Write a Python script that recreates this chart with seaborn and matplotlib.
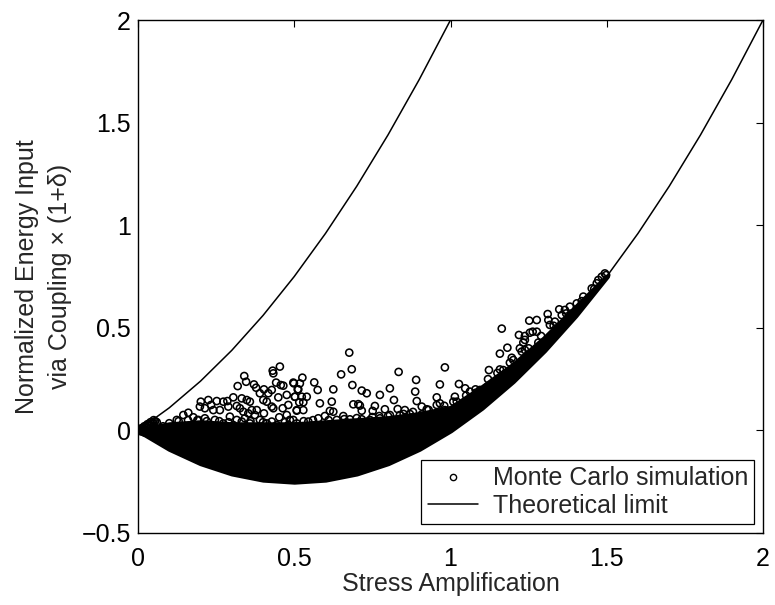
import matplotlib
matplotlib.use("Agg")
import matplotlib.pyplot as plt
from matplotlib.lines import Line2D
import seaborn as sns

# ---- data ----
curve_x = [0.0, 0.1, 0.2, 0.3, 0.4, 0.5, 0.6, 0.7, 0.8, 0.9, 1.0,
           1.1, 1.2, 1.3, 1.4, 1.5, 1.6, 1.7, 1.8, 1.9, 2.0]
lower_limit = [0.0, -0.09, -0.16, -0.21, -0.24, -0.25, -0.24, -0.21, -0.16, -0.09, 0.0,
               0.11, 0.24, 0.39, 0.56, 0.75, 0.96, 1.19, 1.44, 1.71, 2.0]
upper_x = [0.0, 0.1, 0.2, 0.3, 0.4, 0.5, 0.6, 0.7, 0.8, 0.9, 1.0]
upper_limit = [0.0, 0.11, 0.24, 0.39, 0.56, 0.75, 0.96, 1.19, 1.44, 1.71, 2.0]

# top edge of the solid (dense) Monte Carlo cloud, at curve_x[0:16]
dense_top = [0.0, 0.03, 0.04, 0.03, 0.03, 0.03, 0.04, 0.05, 0.06, 0.08, 0.11,
             0.21, 0.32, 0.45, 0.60, 0.75]

# individually visible Monte Carlo samples
mc_x = [0.000, 0.010, 0.020, 0.030, 0.040, 0.050, 0.010, 0.020, 0.030, 0.040, 0.050, 0.060, 0.030, 0.060,
        0.005, 0.015, 0.025, 0.035, 0.045, 0.055, 0.020, 0.040, 0.050,
        0.454, 0.431, 0.433, 0.340, 0.346, 0.319, 0.371, 0.378, 0.403, 0.428, 0.442, 0.457, 0.465, 0.499,
        0.511, 0.390, 0.417, 0.449, 0.476, 0.502, 0.201, 0.225, 0.252, 0.273, 0.286, 0.305, 0.332, 0.348,
        0.358, 0.364, 0.380, 0.401, 0.412, 0.428, 0.433, 0.463, 0.481, 0.508, 0.198, 0.214, 0.234, 0.241,
        0.262, 0.289, 0.316, 0.326, 0.337, 0.342, 0.353, 0.374, 0.403, 0.476, 0.452, 0.428, 0.412, 0.161,
        0.145, 0.124, 0.177, 0.193, 0.214, 0.246, 0.294, 0.316, 0.332, 0.358, 0.390, 0.497, 0.508, 0.444,
        0.481, 0.305, 0.273,
        0.676, 0.684, 0.650, 0.834, 0.982, 0.890, 0.966, 0.564, 0.526, 0.518, 0.497, 0.686, 0.625, 0.575,
        0.716, 0.732, 0.774, 0.806, 0.887, 0.956, 0.513, 0.502, 0.524, 0.540, 0.516, 0.529, 0.620, 0.582,
        0.819, 0.892, 0.689, 0.705, 0.710, 0.758, 0.716, 0.751, 0.790, 0.831, 0.854, 0.870, 0.908, 0.924,
        0.956, 0.966, 0.982, 0.614, 0.625, 0.598, 0.508, 0.529, 0.657, 0.678, 0.716, 0.772, 0.806, 0.838,
        0.892, 0.908, 0.940, 0.961, 0.577, 0.636, 0.545, 0.486, 0.508, 0.742, 0.774, 0.817, 0.865, 0.988,
        1.494, 1.484, 1.473, 1.498, 1.382, 1.348, 1.366, 1.311, 1.313, 1.252, 1.276, 1.164, 1.219, 1.238,
        1.254, 1.263, 1.276, 1.238, 1.233, 1.182, 1.158, 1.196, 1.222, 1.228, 1.238, 1.201, 1.123, 1.158,
        1.169, 1.027, 1.047, 1.116, 1.062, 1.082, 1.014, 1.009, 1.094, 1.137, 1.148, 1.281, 1.318, 1.334,
        1.356, 1.404, 1.425, 1.452, 1.468,
        0.08, 0.10, 0.13, 0.16, 0.19, 0.22, 0.26, 0.29, 0.36, 0.40, 0.47, 0.53, 0.56, 0.61, 0.66, 0.70,
        0.75, 0.80, 0.85, 0.88, 0.93, 0.98, 1.02, 1.05, 1.08, 1.12, 1.15, 1.19, 1.25, 1.29, 1.33, 1.37,
        1.42, 1.46]
mc_y = [0.000, 0.010, 0.020, 0.030, 0.040, 0.050, -0.005, 0.005, 0.015, 0.025, 0.035, 0.040, -0.010, 0.000,
        0.000, 0.010, 0.020, 0.030, 0.035, 0.045, -0.010, 0.010, 0.020,
        0.311, 0.291, 0.278, 0.265, 0.237, 0.216, 0.224, 0.208, 0.200, 0.197, 0.233, 0.221, 0.218, 0.229,
        0.200, 0.181, 0.181, 0.161, 0.173, 0.164, 0.140, 0.148, 0.143, 0.140, 0.143, 0.161, 0.156, 0.148,
        0.140, 0.099, 0.099, 0.148, 0.140, 0.116, 0.108, 0.108, 0.124, 0.099, 0.116, 0.108, 0.124, 0.099,
        0.099, 0.116, 0.119, 0.108, 0.091, 0.059, 0.083, 0.075, 0.083, 0.075, 0.064, 0.043, 0.034, 0.086,
        0.075, 0.051, 0.064, 0.051, 0.059, 0.051, 0.067, 0.051, 0.043, 0.034, 0.051, 0.051, 0.018, 0.026,
        0.026, 0.026, 0.034,
        0.379, 0.298, 0.273, 0.285, 0.307, 0.246, 0.224, 0.234, 0.257, 0.229, 0.233, 0.221, 0.200, 0.197,
        0.194, 0.181, 0.173, 0.205, 0.189, 0.161, 0.200, 0.164, 0.164, 0.164, 0.137, 0.137, 0.140, 0.132,
        0.148, 0.143, 0.127, 0.128, 0.121, 0.119, 0.096, 0.095, 0.103, 0.104, 0.099, 0.080, 0.116, 0.103,
        0.124, 0.132, 0.099, 0.095, 0.091, 0.070, 0.096, 0.099, 0.070, 0.054, 0.054, 0.070, 0.075, 0.075,
        0.064, 0.078, 0.080, 0.067, 0.059, 0.051, 0.043, 0.051, 0.034, 0.051, 0.059, 0.051, 0.059, 0.091,
        0.765, 0.749, 0.733, 0.757, 0.603, 0.590, 0.587, 0.567, 0.538, 0.535, 0.538, 0.496, 0.465, 0.460,
        0.476, 0.481, 0.481, 0.441, 0.428, 0.403, 0.374, 0.354, 0.400, 0.384, 0.392, 0.343, 0.294, 0.297,
        0.294, 0.226, 0.205, 0.210, 0.189, 0.184, 0.164, 0.140, 0.197, 0.221, 0.237, 0.428, 0.514, 0.530,
        0.562, 0.619, 0.652, 0.692, 0.717,
        0.020, 0.035, 0.045, 0.050, 0.050, 0.045, 0.045, 0.040, 0.045, 0.040, 0.040, 0.045, 0.050, 0.050,
        0.055, 0.060, 0.065, 0.070, 0.080, 0.090, 0.100, 0.120, 0.140, 0.170, 0.200, 0.250, 0.280, 0.330,
        0.400, 0.460, 0.510, 0.570, 0.630, 0.690]

x_ticks = [0, 0.5, 1, 1.5, 2]
x_tick_labels = ["0", "0.5", "1", "1.5", "2"]
y_ticks = [-0.5, 0, 0.5, 1, 1.5, 2]
y_tick_labels = ["\u22120.5", "0", "0.5", "1", "1.5", "2"]

# ---- drawing ----
sns.set_style("white")
plt.rcParams["font.family"] = ["Liberation Sans", "DejaVu Sans"]
FS = 18

fig = plt.figure(figsize=(7.75, 6.05), dpi=100)
ax = fig.add_axes([138 / 775, 1 - 533 / 605, (763 - 138) / 775, (533 - 20) / 605])

# dense part of the Monte Carlo cloud
ax.fill_between(curve_x[:16], lower_limit[:16], dense_top,
                facecolor="black", edgecolor="black", linewidth=3.6, zorder=2)
sns.scatterplot(x=mc_x, y=mc_y, ax=ax, marker="o", s=26, facecolor="none",
                edgecolor="black", linewidth=1.15, zorder=3, legend=False)

sns.lineplot(x=curve_x, y=lower_limit, ax=ax, color="black", linewidth=1.1,
             sort=False, estimator=None, zorder=4, legend=False)
sns.lineplot(x=upper_x, y=upper_limit, ax=ax, color="black", linewidth=1.1,
             sort=False, estimator=None, zorder=4, legend=False)

ax.set_xlim(0, 2)
ax.set_ylim(-0.5, 2)
ax.set_xticks(x_ticks)
ax.set_xticklabels(x_tick_labels)
ax.set_yticks(y_ticks)
ax.set_yticklabels(y_tick_labels)
ax.tick_params(direction="in", length=5, width=0.8, colors="black", labelsize=FS,
               top=True, right=True)
ax.tick_params(axis="x", pad=10)
ax.tick_params(axis="y", pad=5)
for sp in ax.spines.values():
    sp.set_visible(True)
    sp.set_color("black")
    sp.set_linewidth(1.0)

ax.set_xlabel("Stress Amplification", fontsize=FS, labelpad=1)
ax.set_ylabel("Normalized Energy Input\nvia Coupling \u00d7 (1+\u03b4)", fontsize=FS,
              linespacing=1.45, labelpad=7)

handles = [Line2D([], [], marker="o", linestyle="none", markerfacecolor="none",
                  markeredgecolor="black", markersize=4.5, markeredgewidth=1.0),
           Line2D([], [], color="black", linewidth=1.1)]
leg = ax.legend(handles, ["Monte Carlo simulation", "Theoretical limit"],
                loc="lower right", fontsize=FS, frameon=True, fancybox=False,
                edgecolor="black", framealpha=1, borderaxespad=0.35,
                handlelength=2.0, handletextpad=0.6, borderpad=0.25, labelspacing=0.15)
leg.get_frame().set_linewidth(0.9)

fig.savefig("out.png", dpi=100)
